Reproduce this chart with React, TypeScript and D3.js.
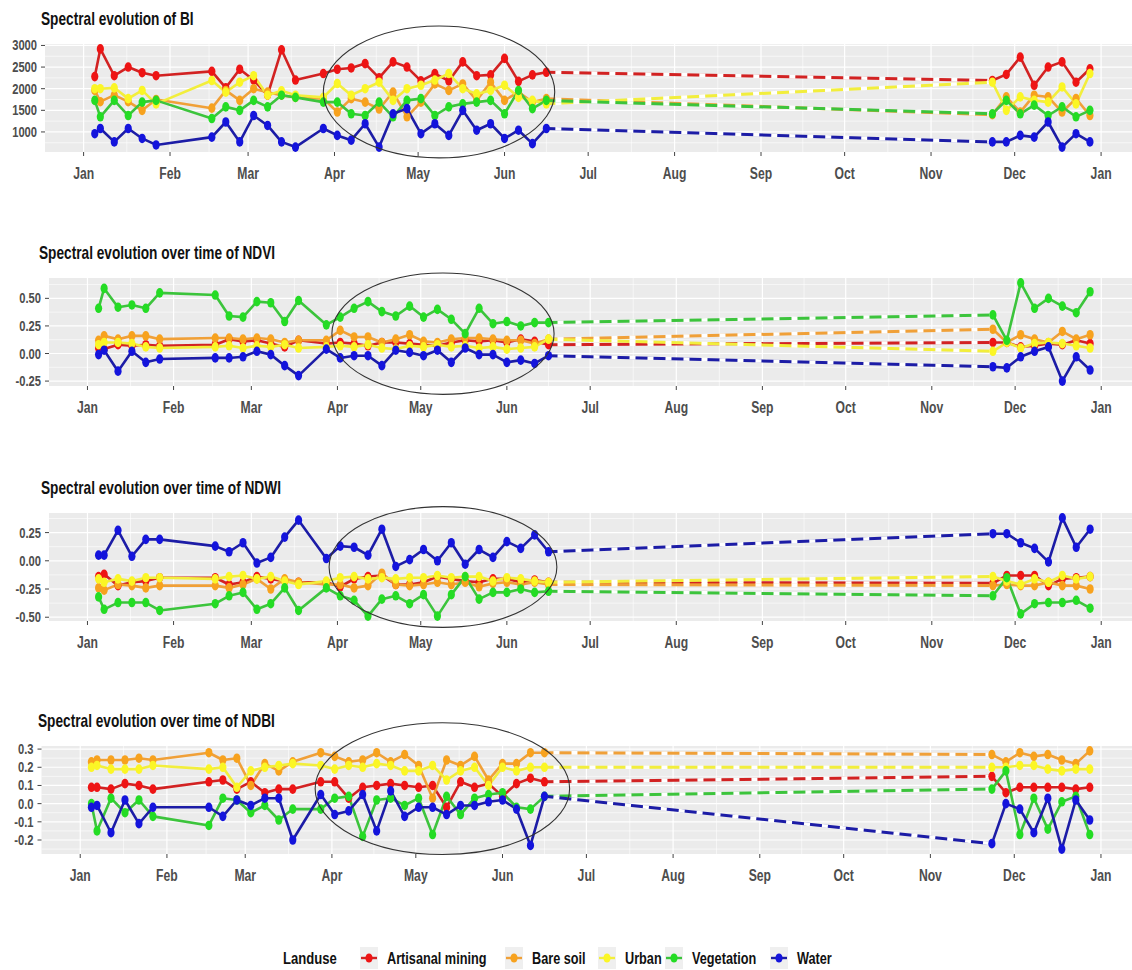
import React from 'react';
import * as d3 from 'd3';

// landuse classes, in legend order
const LANDUSE = ['Artisanal mining', 'Bare soil', 'Urban', 'Vegetation', 'Water'];
const POINT_COLORS = ['#ee1414', '#f7a21e', '#fbf626', '#24dc24', '#1414dc'];
const LINE_COLORS = ['#d22222', '#f0a038', '#f2ee3c', '#3cc43c', '#1c1ca6'];

// acquisition dates: first half of the year, then the late-November / December run
const SPRING_DATES = [
  '2019-01-05', '2019-01-07', '2019-01-12', '2019-01-17', '2019-01-22', '2019-01-27',
  '2019-02-16', '2019-02-21', '2019-02-26', '2019-03-03', '2019-03-08', '2019-03-13', '2019-03-18',
  '2019-03-28', '2019-04-02', '2019-04-07', '2019-04-12', '2019-04-17', '2019-04-22', '2019-04-27',
  '2019-05-02', '2019-05-07', '2019-05-12', '2019-05-17', '2019-05-22', '2019-05-27',
  '2019-06-01', '2019-06-06', '2019-06-11', '2019-06-16'
];
const WINTER_DATES = [
  '2019-11-23', '2019-11-28', '2019-12-03', '2019-12-08', '2019-12-13', '2019-12-18', '2019-12-23', '2019-12-28'
];

// BI (30 spring values + 8 winter values)
const BI_MINING = [2280, 2920, 2300, 2500, 2370, 2300, 2400, 2020, 2450, 2200, 1850, 2900, 2200, 2350, 2450, 2480, 2580, 2250, 2620, 2500, 2180, 2350, 2180, 2620, 2300, 2320, 2700, 2170, 2320, 2380,
  2190, 2330, 2730, 2080, 2500, 2620, 2150, 2460];
const BI_BARE = [1960, 1700, 1850, 1700, 1500, 1750, 1550, 1960, 1730, 2000, 1920, 1850, 1800, 1770, 1460, 1770, 1690, 1530, 1920, 1350, 1690, 2110, 1960, 2110, 1730, 2150, 1730, 1920, 1690, 1770,
  1400, 1810, 1460, 1850, 1810, 1460, 1770, 1380];
const BI_URBAN = [2000, 2000, 2020, 1770, 1960, 1650, 2190, 1920, 2150, 2300, 1850, 1950, 1850, 1800, 2120, 1850, 2000, 2150, 1730, 2000, 2080, 2200, 2350, 2000, 1880, 1960, 2080, 1800, 1730, 1650,
  2150, 1500, 1810, 1730, 1690, 2040, 1650, 2350];
const BI_VEG = [1730, 1350, 1730, 1380, 1690, 1730, 1310, 1580, 1500, 1730, 1580, 1850, 1800, 1690, 1690, 1420, 1380, 1690, 1350, 1730, 1770, 1380, 1580, 1650, 1690, 1730, 1420, 1960, 1540, 1730,
  1420, 1730, 1420, 1620, 1380, 1580, 1350, 1500];
const BI_WATER = [960, 1080, 770, 1080, 850, 700, 880, 1230, 770, 1380, 1150, 770, 650, 1080, 920, 810, 1190, 650, 1420, 1540, 960, 1190, 920, 1500, 1040, 1190, 850, 1040, 730, 1080,
  770, 770, 920, 880, 1230, 650, 960, 770];

// NDVI
const NDVI_MINING = [0.05, 0.04, 0.08, 0.07, 0.08, 0.07, 0.08, 0.13, 0.11, 0.12, 0.09, 0.06, 0.12, 0.09, 0.10, 0.09, 0.07, 0.10, 0.10, 0.09, 0.08, 0.07, 0.10, 0.12, 0.11, 0.12, 0.10, 0.13, 0.11, 0.08,
  0.10, 0.10, 0.06, 0.07, 0.09, 0.08, 0.12, 0.09];
const NDVI_BARE = [0.12, 0.16, 0.13, 0.16, 0.16, 0.13, 0.14, 0.14, 0.13, 0.14, 0.13, 0.10, 0.12, 0.12, 0.21, 0.15, 0.15, 0.10, 0.13, 0.17, 0.11, 0.10, 0.13, 0.14, 0.14, 0.13, 0.12, 0.12, 0.09, 0.13,
  0.22, 0.10, 0.17, 0.13, 0.10, 0.20, 0.13, 0.17];
const NDVI_URBAN = [0.08, 0.10, 0.10, 0.09, 0.06, 0.05, 0.06, 0.07, 0.05, 0.07, 0.06, 0.08, 0.05, 0.06, 0.07, 0.06, 0.08, 0.05, 0.04, 0.07, 0.06, 0.08, 0.06, 0.07, 0.05, 0.06, 0.04, 0.05, 0.06, 0.13,
  0.02, 0.10, 0.05, 0.09, 0.10, 0.09, 0.07, 0.05];
const NDVI_VEG = [0.41, 0.59, 0.42, 0.44, 0.41, 0.55, 0.53, 0.34, 0.33, 0.47, 0.46, 0.29, 0.48, 0.26, 0.33, 0.41, 0.47, 0.38, 0.34, 0.43, 0.33, 0.40, 0.31, 0.18, 0.41, 0.27, 0.29, 0.25, 0.28, 0.28,
  0.35, 0.12, 0.64, 0.41, 0.50, 0.43, 0.37, 0.56];
const NDVI_WATER = [-0.01, 0.03, -0.16, 0.02, -0.08, -0.05, -0.04, -0.04, -0.03, 0.02, -0.01, -0.11, -0.20, 0.04, -0.04, -0.02, -0.02, -0.11, 0.03, 0.01, -0.02, 0.03, -0.08, 0.05, -0.01, -0.01, -0.08, -0.06, -0.09, -0.02,
  -0.12, -0.13, -0.03, 0.02, 0.06, -0.25, -0.03, -0.15];

// NDWI
const NDWI_MINING = [-0.14, -0.12, -0.22, -0.19, -0.18, -0.15, -0.15, -0.21, -0.19, -0.14, -0.16, -0.18, -0.19, -0.19, -0.23, -0.16, -0.14, -0.13, -0.21, -0.21, -0.19, -0.14, -0.16, -0.18, -0.19, -0.16, -0.16, -0.19, -0.17, -0.19,
  -0.20, -0.13, -0.13, -0.13, -0.22, -0.16, -0.15, -0.14];
const NDWI_BARE = [-0.24, -0.26, -0.21, -0.22, -0.24, -0.22, -0.22, -0.24, -0.21, -0.16, -0.25, -0.16, -0.19, -0.21, -0.21, -0.24, -0.22, -0.11, -0.21, -0.22, -0.21, -0.19, -0.21, -0.19, -0.23, -0.20, -0.19, -0.21, -0.19, -0.21,
  -0.22, -0.21, -0.22, -0.22, -0.19, -0.22, -0.22, -0.25];
const NDWI_URBAN = [-0.16, -0.19, -0.16, -0.18, -0.15, -0.15, -0.16, -0.14, -0.13, -0.16, -0.14, -0.18, -0.21, -0.18, -0.15, -0.14, -0.16, -0.15, -0.16, -0.15, -0.15, -0.13, -0.15, -0.14, -0.14, -0.18, -0.15, -0.16, -0.18, -0.19,
  -0.14, -0.18, -0.21, -0.16, -0.19, -0.13, -0.16, -0.14];
const NDWI_VEG = [-0.32, -0.43, -0.37, -0.37, -0.37, -0.44, -0.38, -0.31, -0.28, -0.43, -0.38, -0.24, -0.44, -0.24, -0.31, -0.35, -0.49, -0.34, -0.31, -0.38, -0.30, -0.49, -0.30, -0.14, -0.34, -0.28, -0.28, -0.25, -0.28, -0.27,
  -0.31, -0.15, -0.47, -0.38, -0.37, -0.37, -0.35, -0.42];
const NDWI_WATER = [0.05, 0.05, 0.27, 0.04, 0.19, 0.19, 0.13, 0.08, 0.16, -0.02, 0.03, 0.21, 0.36, 0.02, 0.13, 0.12, 0.05, 0.28, -0.05, 0.01, 0.10, 0.00, 0.16, -0.03, 0.10, 0.03, 0.17, 0.11, 0.23, 0.08,
  0.24, 0.24, 0.16, 0.11, -0.01, 0.38, 0.12, 0.28];

// NDBI
const NDBI_MINING = [0.09, 0.09, 0.08, 0.11, 0.10, 0.08, 0.12, 0.13, 0.08, 0.12, 0.06, 0.08, 0.08, 0.12, 0.12, 0.03, 0.09, 0.10, 0.11, 0.10, 0.09, 0.10, -0.02, 0.12, 0.09, 0.11, 0.04, 0.11, 0.14, 0.12,
  0.15, 0.06, 0.09, 0.09, 0.09, 0.09, 0.08, 0.09];
const NDBI_BARE = [0.23, 0.24, 0.24, 0.24, 0.25, 0.24, 0.28, 0.24, 0.25, 0.10, 0.22, 0.18, 0.23, 0.28, 0.26, 0.23, 0.24, 0.28, 0.23, 0.27, 0.21, 0.03, 0.24, 0.21, 0.26, 0.13, 0.22, 0.22, 0.28, 0.28,
  0.27, 0.23, 0.28, 0.26, 0.27, 0.24, 0.22, 0.29];
const NDBI_URBAN = [0.20, 0.21, 0.19, 0.19, 0.19, 0.21, 0.19, 0.20, 0.09, 0.18, 0.20, 0.21, 0.22, 0.21, 0.19, 0.21, 0.20, 0.22, 0.21, 0.18, 0.18, 0.21, 0.13, 0.18, 0.20, 0.10, 0.20, 0.18, 0.20, 0.20,
  0.20, 0.20, 0.21, 0.21, 0.19, 0.18, 0.19, 0.19];
const NDBI_VEG = [0.00, -0.15, 0.03, -0.05, 0.02, -0.07, -0.12, 0.03, 0.02, -0.05, -0.01, -0.09, -0.03, -0.03, 0.03, 0.04, -0.18, 0.02, 0.03, -0.01, 0.03, -0.17, 0.04, -0.06, 0.03, 0.05, 0.06, -0.02, -0.03, 0.04,
  0.08, 0.18, -0.17, 0.03, -0.14, 0.01, 0.04, -0.17];
const NDBI_WATER = [-0.02, -0.01, -0.16, 0.02, -0.11, -0.02, -0.02, -0.07, 0.02, -0.01, 0.03, 0.03, -0.20, 0.05, -0.06, -0.04, 0.05, -0.15, 0.07, -0.07, -0.02, -0.02, -0.06, -0.01, -0.01, 0.01, 0.02, -0.03, -0.23, 0.04,
  -0.22, 0.00, -0.03, -0.16, 0.03, -0.25, 0.02, -0.09];

// y ticks per index
const BI_TICKS = [1000, 1500, 2000, 2500, 3000];
const NDVI_TICKS = [-0.25, 0, 0.25, 0.5];
const NDWI_TICKS = [-0.5, -0.25, 0, 0.25];
const NDBI_TICKS = [-0.2, -0.1, 0, 0.1, 0.2, 0.3];

// circled period on each panel: [from, to] dates and [low, high] values
const BI_HIGHLIGHT = { dates: ['2019-03-28', '2019-06-19'], values: [400, 3450] };
const NDVI_HIGHLIGHT = { dates: ['2019-03-30', '2019-06-18'], values: [-0.37, 0.73] };
const NDWI_HIGHLIGHT = { dates: ['2019-03-29', '2019-06-19'], values: [-0.59, 0.48] };
const NDBI_HIGHLIGHT = { dates: ['2019-03-26', '2019-06-25'], values: [-0.28, 0.445] };

const FONT = '"Liberation Sans", Arial, Helvetica, sans-serif';
const WIDTH = 1132;
const HEIGHT = 970;
const PANEL_RIGHT = 1139.7; // plot runs past the cropped right edge

const parse = d3.utcParse('%Y-%m-%d');
const ALL_DATES = [...SPRING_DATES, ...WINTER_DATES].map((d) => parse(d));
const N_SPRING = SPRING_DATES.length;

const PANELS = [
  { title: 'Spectral evolution of BI', series: [BI_MINING, BI_BARE, BI_URBAN, BI_VEG, BI_WATER], ticks: BI_TICKS, fmt: d3.format('d'),
    highlight: BI_HIGHLIGHT, left: 45, top: 44, bottom: 152, titleX: 41, titleY: 25 },
  { title: 'Spectral evolution over time of NDVI', series: [NDVI_MINING, NDVI_BARE, NDVI_URBAN, NDVI_VEG, NDVI_WATER], ticks: NDVI_TICKS, fmt: d3.format('.2f'),
    highlight: NDVI_HIGHLIGHT, left: 49, top: 278, bottom: 386, titleX: 39, titleY: 259 },
  { title: 'Spectral evolution over time of NDWI', series: [NDWI_MINING, NDWI_BARE, NDWI_URBAN, NDWI_VEG, NDWI_WATER], ticks: NDWI_TICKS, fmt: d3.format('.2f'),
    highlight: NDWI_HIGHLIGHT, left: 49, top: 513, bottom: 621, titleX: 41, titleY: 494 },
  { title: 'Spectral evolution over time of NDBI', series: [NDBI_MINING, NDBI_BARE, NDBI_URBAN, NDBI_VEG, NDBI_WATER], ticks: NDBI_TICKS, fmt: d3.format('.1f'),
    highlight: NDBI_HIGHLIGHT, left: 41.5, top: 746, bottom: 854, titleX: 38, titleY: 727 }
];

// narrow-looking text: Arial metrics squeezed horizontally
const NText = ({ x, y, size, sx = 0.77, anchor = 'start', fill = '#4d4d4d', weight = 700, children }: any) => (
  <text transform={`translate(${x},${y}) scale(${sx},1)`} fontFamily={FONT} fontSize={size} fontWeight={weight}
    fill={fill} textAnchor={anchor}>{children}</text>
);

const fixMinus = (s: string) => s.replace('\u2212', '-');

const Panel = ({ cfg }: any) => {
  const [d0, d1] = d3.extent(ALL_DATES) as [Date, Date];
  const span = +d1 - +d0;
  const x = d3.scaleUtc()
    .domain([new Date(+d0 - 0.05 * span), new Date(+d1 + 0.05 * span)])
    .range([cfg.left, PANEL_RIGHT]);

  const [lo, hi] = d3.extent(cfg.series.flat() as number[]) as [number, number];
  const pad = (hi - lo) * 0.05;
  const y = d3.scaleLinear().domain([lo - pad, hi + pad]).range([cfg.bottom, cfg.top]);

  const months = d3.utcMonth.range(new Date(Date.UTC(2019, 0, 1)), new Date(Date.UTC(2020, 0, 2)));
  const minorX = months.slice(1).map((m, i) => new Date((+m + +months[i]) / 2));
  const step = cfg.ticks[1] - cfg.ticks[0];
  const minorY = [cfg.ticks[0] - step / 2, ...cfg.ticks.map((t: number) => t + step / 2)]
    .filter((v: number) => v > y.domain()[0] && v < y.domain()[1]);

  const line = d3.line<[Date, number]>().x((d) => x(d[0])).y((d) => y(d[1]));
  const pts = (vals: number[]) => vals.map((v, i) => [ALL_DATES[i], v] as [Date, number]);

  const h = cfg.highlight;
  const ex0 = x(parse(h.dates[0]) as Date);
  const ex1 = x(parse(h.dates[1]) as Date);
  const ey0 = y(h.values[1]);
  const ey1 = y(h.values[0]);

  return (
    <g>
      <NText x={cfg.titleX} y={cfg.titleY} size={18} sx={0.76} fill="#111">{cfg.title}</NText>

      <rect x={cfg.left} y={cfg.top} width={PANEL_RIGHT - cfg.left} height={cfg.bottom - cfg.top} fill="#ebebeb" />
      {minorY.map((v: number) => (
        <line key={'my' + v} x1={cfg.left} x2={PANEL_RIGHT} y1={y(v)} y2={y(v)} stroke="#fff" strokeWidth={0.6} />
      ))}
      {minorX.map((d, i) => (
        <line key={'mx' + i} x1={x(d)} x2={x(d)} y1={cfg.top} y2={cfg.bottom} stroke="#fff" strokeWidth={0.6} />
      ))}
      {cfg.ticks.map((v: number) => (
        <line key={'gy' + v} x1={cfg.left} x2={PANEL_RIGHT} y1={y(v)} y2={y(v)} stroke="#fff" strokeWidth={1.2} />
      ))}
      {months.map((d, i) => (
        <line key={'gx' + i} x1={x(d)} x2={x(d)} y1={cfg.top} y2={cfg.bottom} stroke="#fff" strokeWidth={1.2} />
      ))}

      {/* solid runs */}
      {cfg.series.map((vals: number[], s: number) => {
        const p = pts(vals);
        return (
          <g key={'l' + s}>
            <path d={line(p.slice(0, N_SPRING)) || ''} fill="none" stroke={LINE_COLORS[s]} strokeWidth={2.6} strokeLinejoin="round" />
            <path d={line(p.slice(N_SPRING)) || ''} fill="none" stroke={LINE_COLORS[s]} strokeWidth={2.6} strokeLinejoin="round" />
          </g>
        );
      })}
      {/* dashed link over the cloudy months */}
      {cfg.series.map((vals: number[], s: number) => {
        const p = pts(vals).slice(N_SPRING - 1, N_SPRING + 1);
        return (
          <g key={'g' + s}>
            <path d={line(p) || ''} fill="none" stroke={LINE_COLORS[s]} strokeWidth={3} />
            <path d={line(p) || ''} fill="none" stroke="#fff" strokeWidth={3.6} strokeDasharray="6 12" strokeDashoffset={-9} />
          </g>
        );
      })}
      {cfg.series.map((vals: number[], s: number) => (
        <g key={'p' + s} fill={POINT_COLORS[s]}>
          {pts(vals).map((d, i) => (
            <ellipse key={i} cx={x(d[0])} cy={y(d[1])} rx={3.6} ry={4.8} />
          ))}
        </g>
      ))}

      <ellipse cx={(ex0 + ex1) / 2} cy={(ey0 + ey1) / 2} rx={(ex1 - ex0) / 2} ry={(ey1 - ey0) / 2}
        fill="none" stroke="#333" strokeWidth={1.1} />

      {/* y axis */}
      {cfg.ticks.map((v: number) => (
        <g key={'yt' + v}>
          <line x1={cfg.left - 4} x2={cfg.left} y1={y(v)} y2={y(v)} stroke="#444" strokeWidth={1} />
          <NText x={cfg.left - 8} y={y(v) + 5} size={14.5} anchor="end">{fixMinus(cfg.fmt(v))}</NText>
        </g>
      ))}
      {/* x axis */}
      {months.map((d, i) => (
        <g key={'xt' + i}>
          <line x1={x(d)} x2={x(d)} y1={cfg.bottom} y2={cfg.bottom + 4} stroke="#444" strokeWidth={1} />
          <NText x={x(d)} y={cfg.bottom + 27} size={16} sx={0.76} anchor="middle">{d3.utcFormat('%b')(d)}</NText>
        </g>
      ))}
    </g>
  );
};

const LEGEND_KEY_X = [369, 514, 607, 674, 779];
const LEGEND_Y = 958;

const Legend = () => (
  <g>
    <NText x={283} y={LEGEND_Y + 6} size={17} fill="#111">Landuse</NText>
    {LANDUSE.map((name, i) => (
      <g key={name}>
        <rect x={LEGEND_KEY_X[i] - 9} y={LEGEND_Y - 11} width={18} height={22} fill="#efefef" />
        <line x1={LEGEND_KEY_X[i] - 8} x2={LEGEND_KEY_X[i] + 8} y1={LEGEND_Y} y2={LEGEND_Y} stroke={LINE_COLORS[i]} strokeWidth={2.4} />
        <ellipse cx={LEGEND_KEY_X[i]} cy={LEGEND_Y} rx={3.6} ry={4.6} fill={POINT_COLORS[i]} />
        <NText x={LEGEND_KEY_X[i] + 18} y={LEGEND_Y + 6} size={16.5} fill="#111">{name}</NText>
      </g>
    ))}
  </g>
);

export default function App() {
  return (
    <svg width={WIDTH} height={HEIGHT} viewBox={`0 0 ${WIDTH} ${HEIGHT}`}
      style={{ position: 'absolute', left: 0, top: 0, background: '#fff', display: 'block' }}>
      <rect width={WIDTH} height={HEIGHT} fill="#fff" />
      {PANELS.map((p) => <Panel key={p.title} cfg={p} />)}
      <Legend />
    </svg>
  );
}
